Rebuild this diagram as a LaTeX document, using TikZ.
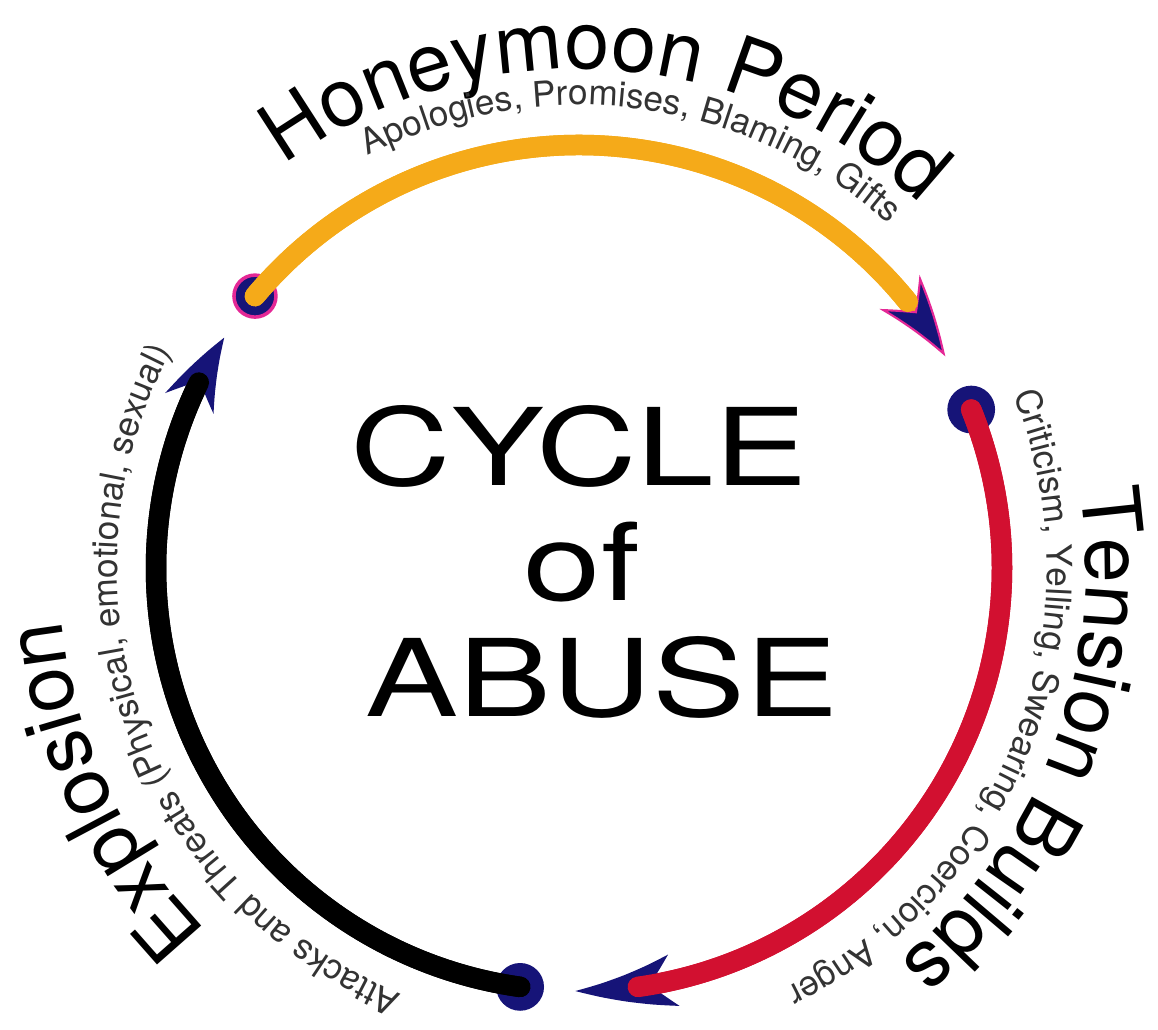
\documentclass[tikz,border=0pt]{standalone}
\usepackage{fontspec}
\setmainfont{TeX Gyre Heros}
\usetikzlibrary{arrows.meta,bending,decorations.text}

\definecolor{honeyorange}{RGB}{245,170,25}
\definecolor{tensionred}{RGB}{210,16,48}
\definecolor{dotnavy}{RGB}{22,20,120}
\definecolor{rimpink}{RGB}{228,40,150}

\tikzset{
  cyclearc/.style={line width=0.41cm, line cap=round},
  cyclehead/.style={-{Stealth[length=#1, width=1.05cm, inset=0.5cm, fill=dotnavy, color=dotnavy, line width=1pt, bend]}},
  cycledot/.style={fill=dotnavy, draw=dotnavy, line width=1pt},
  bigtext/.style={decorate, decoration={text along path, text align=center, text={|\fontsize{46}{50}\selectfont|#1}}},
  smalltext/.style={decorate, decoration={text along path, text align=center, text={|\color{black!80}\fontsize{20}{22}\selectfont|#1}}},
  middletext/.style={anchor=base, font=\fontsize{61}{61}\selectfont}
}

\begin{document}
\begin{tikzpicture}[line cap=round,line join=round,x=1.0cm,y=1.0cm]
  \useasboundingbox (-11.58,-9.22) rectangle (11.58,11.36);
  \coordinate (hub) at (0,0);
  \coordinate (honeystart) at (140:8.46);
  \coordinate (tensionstart) at (22:8.46);
  \coordinate (blowstart) at (262:8.46);

  %% the three dots
  \draw [cycledot, draw=rimpink, line width=2pt] (honeystart) circle (0.42);
  \draw [cycledot] (tensionstart) circle (0.46);
  \draw [cycledot] (blowstart) circle (0.46);

  %% honeymoon arc
  \draw [cyclearc, honeyorange, -{Stealth[length=1.6cm, width=1.05cm, inset=0.5cm, fill=dotnavy, color=rimpink, line width=1.2pt, bend]}] (honeystart) arc[start angle=140, end angle=30, radius=8.46];
  \draw [cyclearc, honeyorange] (honeystart) arc[start angle=140, end angle=39, radius=8.46];
  %% tension arc
  \draw [cyclearc, tensionred, cyclehead=2.0cm] (tensionstart) arc[start angle=22, end angle=-90.5, radius=8.46];
  \draw [cyclearc, tensionred] (tensionstart) arc[start angle=22, end angle=-82, radius=8.46];
  %% explosion arc
  \draw [cyclearc, black, cyclehead=1.5cm] (blowstart) arc[start angle=262, end angle=147, radius=8.46];
  \draw [cyclearc, black] (blowstart) arc[start angle=262, end angle=154, radius=8.46];

  %% labels round the ring
  \path [bigtext={Honeymoon Period}] (156.5:9.98) arc[start angle=156.5, end angle=16.5, radius=9.98];
  \path [smalltext={Apologies, Promises, Blaming, Gifts}] (152.6:9.26) arc[start angle=152.6, end angle=12.6, radius=9.26];
  \path [bigtext={Tension Builds}] (49:10.14) arc[start angle=49, end angle=-91, radius=10.14];
  \path [smalltext={Criticism, Yelling, Swearing, Coercion, Anger}] (49:9.36) arc[start angle=49, end angle=-91, radius=9.36];
  \path [bigtext={Explosion}] (275:10.4) arc[start angle=275, end angle=135, radius=10.4];
  \path [smalltext={Attacks and Threats (Physical, emotional, sexual)}] (269.7:9.24) arc[start angle=269.7, end angle=129.7, radius=9.24];

  %% title in the middle
  \node (cycle) [middletext] at (0,1.66) {\scalebox{1.3}[1]{CYCLE}};
  \node (of) [middletext] at (0.06,-0.64) {\scalebox{1.3}[1]{of}};
  \node (abuse) [middletext] at (0.46,-2.96) {\scalebox{1.3}[1]{ABUSE}};
\end{tikzpicture}
\end{document}
